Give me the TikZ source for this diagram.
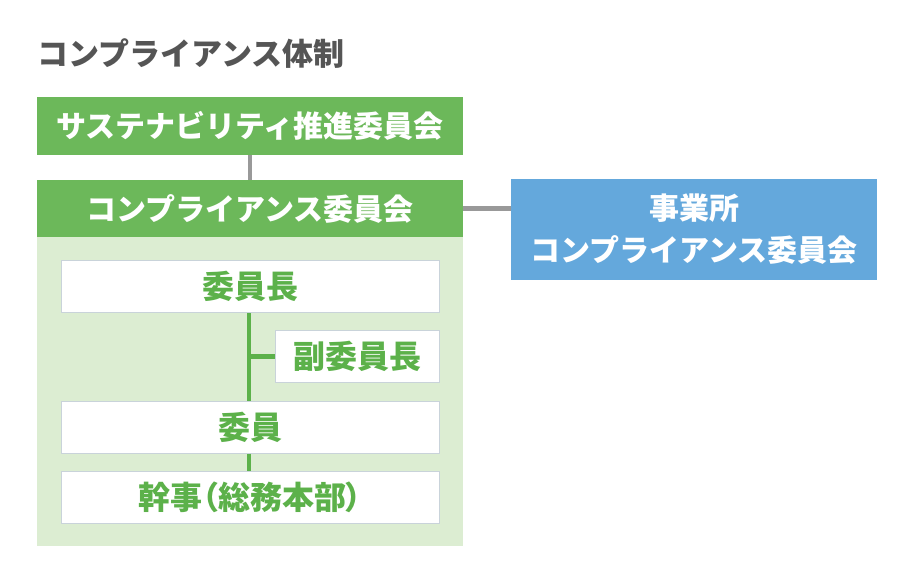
\documentclass[tikz,border=0pt]{standalone}
\usepackage{fontspec}
\setmainfont{Noto Sans CJK JP}
\newfontfamily\jppalt{Noto Sans CJK JP}[RawFeature=+palt]
\usepackage{tikz}
\usetikzlibrary{positioning,calc}
\definecolor{headgreen}{HTML}{6CB85A}
\definecolor{panelgreen}{HTML}{DCEDD2}
\definecolor{textgreen}{HTML}{5CB14A}
\definecolor{siteblue}{HTML}{64A8DC}
\definecolor{linkgray}{HTML}{999999}
\definecolor{titlegray}{HTML}{555555}
\definecolor{boxedge}{HTML}{C9D3DA}

\begin{document}
\begin{tikzpicture}[x=1pt, y=-1pt,
    head/.style={fill=headgreen, text=white, minimum width=426pt,
                 font=\fontsize{30}{36}\selectfont\bfseries, inner sep=0pt},
    member/.style={draw=boxedge, line width=1pt, fill=white, text=textgreen,
                   minimum height=52pt, inner sep=0pt,
                   font=\jppalt\fontsize{32}{36}\selectfont\bfseries},
    graylink/.style={linkgray, line width=4.5pt},
    greenlink/.style={textgreen, line width=4.5pt}
]
\useasboundingbox (0,0) rectangle (910,574);

% --- title ---
\node[anchor=west, inner sep=0pt, text=titlegray,
      font=\fontsize{31}{36}\selectfont\bfseries] (title) at (37,54)
  {コンプライアンス体制};

% --- committees ---
\node[head, minimum height=58pt] (sustain) at (250,126)
  {サステナビリティ推進委員会};
\node[head, minimum height=57pt] (comp) at (250,208.5)
  {コンプライアンス委員会};
\node[fill=panelgreen, minimum width=426pt, minimum height=309pt,
      inner sep=0pt] (panel) at (250,391.5) {};
\node[fill=siteblue, text=white, minimum width=366pt, minimum height=101pt,
      align=center, inner sep=0pt,
      font=\fontsize{30}{42}\selectfont\bfseries] (site) at (694,229.5)
  {事業所\\コンプライアンス委員会};

% --- members ---
\node[member, minimum width=378pt] (chair)     at (250,286.5) {委員長};
\node[member, minimum width=164pt] (vice)      at (357,356.5) {副委員長};
\node[member, minimum width=378pt] (committee) at (250,427)   {委員};
\node[member, minimum width=378pt] (secretary) at (250,497)   {幹事（総務本部）};

% --- links ---
\draw[graylink] (sustain.south) -- (comp.north);
\draw[graylink] (comp.east) -- (comp.east -| site.west);
\draw[greenlink] ([xshift=-1pt]chair.south) -- ([xshift=-1pt]committee.north);
\draw[greenlink] (vice.west) -- ([xshift=-1pt]vice.west -| chair.south);
\draw[greenlink] ([xshift=-1pt]committee.south) -- ([xshift=-1pt]secretary.north);

\end{tikzpicture}
\end{document}
